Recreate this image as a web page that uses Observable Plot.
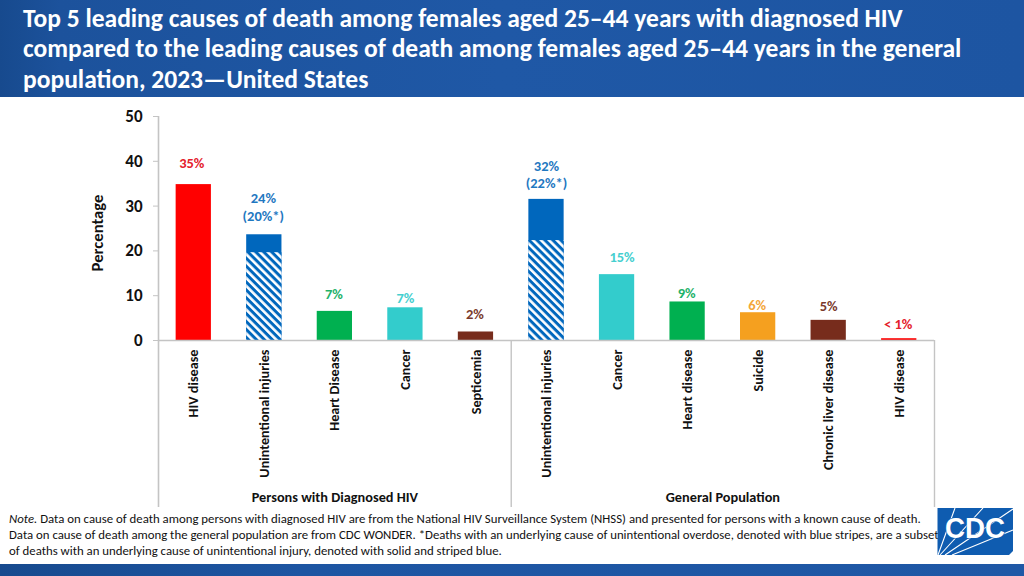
<!DOCTYPE html>
<html>
<head>
<meta charset="utf-8">
<script src="https://cdn.jsdelivr.net/npm/d3@7"></script>
<script src="https://cdn.jsdelivr.net/npm/@observablehq/plot@0.6"></script>
<style>
  html,body{margin:0;padding:0;background:#fff;width:1024px;height:576px;overflow:hidden;font-family:Carlito,Lato,sans-serif;}
  #page{position:relative;width:1024px;height:576px;overflow:hidden;}
  #head{height:97px;box-sizing:border-box;background:linear-gradient(90deg,#174a8e 0,#1c529c 60px,#1f58a6 500px,#1d55a2 1024px);color:#fff;font-weight:700;font-size:25.55px;line-height:30.6px;padding:3.5px 0 0 23px;white-space:pre;}
  #chart{height:410px;}
  #chart svg{display:block;}
  #note{position:absolute;left:9px;top:511px;font-size:12.8px;line-height:16px;color:#111;white-space:pre;}
  #foot{position:absolute;left:0;top:564px;width:1024px;height:12px;background:linear-gradient(90deg,#174a8e 0,#1d55a2 300px,#1f58a6 1024px);}
  #logo{position:absolute;left:937px;top:508px;}
</style>
</head>
<body>
<div id="page">
  <div id="head"></div>
  <div id="chart"></div>
  <div id="note"></div>
  <svg id="logo" width="77" height="48" viewBox="0 0 77 48">
    <path d="M0.5 0H76V43L72 47H0.5Z" fill="#0f5cb0"/>
    <g stroke="#fff" stroke-width="1.1" fill="none">
      <path d="M1 47L18 0M3 47L46 0M8 47L76 1M15 47L76 22"/>
    </g>
    <text x="38" y="30" text-anchor="middle" font-family="Liberation Sans,Arimo,sans-serif" font-weight="700" font-size="29" fill="#fff" stroke="#0f5cb0" stroke-width="1.2" paint-order="stroke" textLength="60" lengthAdjust="spacingAndGlyphs">CDC</text>
  </svg>
  <div id="foot"></div>
</div>
<script>
const titleLines = [
  "Top 5 leading causes of death among females aged 25–44 years with diagnosed HIV",
  "compared to the leading causes of death among females aged 25–44 years in the general",
  "population, 2023—United States"
];
const noteLines = [
  "Data on cause of death among persons with diagnosed HIV are from the National HIV Surveillance System (NHSS) and presented for persons with a known cause of death.",
  "Data on cause of death among the general population are from CDC WONDER. *Deaths with an underlying cause of unintentional overdose, denoted with blue stripes, are a subset",
  "of deaths with an underlying cause of unintentional injury, denoted with solid and striped blue."
];
const causes = ["HIV disease","Unintentional injuries","Heart Disease","Cancer","Septicemia",
                "Unintentional injuries","Cancer","Heart disease","Suicide","Chronic liver disease","HIV disease"];
const percents = [34.8,23.6,6.5,7.3,1.9,31.5,14.7,8.6,6.2,4.5,0.4];
const overdose = [null,19.6,null,null,null,22.3,null,null,null,null,null];
const valueLabels = ["35%","24%\n(20%*)","7%","7%","2%","32%\n(22%*)","15%","9%","6%","5%","< 1%"];
const groups = ["Persons with Diagnosed HIV","General Population"];
const yTicks = [0,10,20,30,40,50];

// Styling and layout
const barHue = {"hiv disease":"#ff0000","unintentional injuries":"#0067bd","heart disease":"#00b050","cancer":"#33cccc",
  "septicemia":"#772c1c","suicide":"#f5a01f","chronic liver disease":"#772c1c"};
const labelHue = {"hiv disease":"#e4202c","unintentional injuries":"#1f78c1","heart disease":"#1fb26a","cancer":"#45cfcf",
  "septicemia":"#7a3a2c","suicide":"#f3a63a","chronic liver disease":"#7a3a2c"};
const labelLift = [17,14,12,5,13,11,13,4,3,9,10];
const labelShift = [-2,-1,-1,0,-1,0,5,-1,-1,0,-1];
const halfStep = 35.27, gridColor = "#c4c4c4", bottomValue = -37.3;

document.getElementById("head").textContent = titleLines.join("\n");
const noteEl = document.getElementById("note");
noteLines.forEach((line,k)=>{
  const row = document.createElement("div");
  if (k===0) {
    const em = document.createElement("i");
    em.textContent = "Note.";
    row.appendChild(em);
    row.appendChild(document.createTextNode(" " + line));
  } else row.textContent = line;
  noteEl.appendChild(row);
});

const rows = causes.map((cause,i)=>({i,cause,value:percents[i],overdose:overdose[i],label:valueLabels[i]}));
const striped = rows.filter(d=>d.overdose!=null);

const stripes = () => {
  const svg = d3.create("svg:defs");
  const p = svg.append("pattern").attr("id","stripes").attr("patternUnits","userSpaceOnUse")
    .attr("width",5.6).attr("height",5.6).attr("patternTransform","rotate(-45)");
  p.append("rect").attr("width",5.6).attr("height",5.6).attr("fill","#0067bd");
  p.append("rect").attr("width",2.6).attr("height",5.6).attr("fill","#fff");
  return svg.node();
};

const chart = Plot.plot({
  width:1024, height:410,
  marginLeft:158, marginRight:90, marginTop:19, marginBottom:167,
  style:{fontFamily:"Carlito,Lato,sans-serif",background:"transparent",color:"#111"},
  x:{domain:d3.range(causes.length), paddingInner:0.5, paddingOuter:0.25, align:0.5, round:false, axis:null},
  y:{domain:[0,50], axis:null},
  marks:[
    stripes,
    Plot.barY(rows,{x:"i",y:"value",fill:d=>barHue[d.cause.toLowerCase()]}),
    Plot.barY(striped,{x:"i",y:"overdose",fill:"url(#stripes)"}),
    Plot.ruleX([0],{x:d=>d,dx:-halfStep,y1:bottomValue,y2:50,stroke:gridColor,strokeWidth:1.6}),
    Plot.ruleX([4,10],{x:d=>d,dx:halfStep,y1:bottomValue,y2:0,stroke:gridColor,strokeWidth:1.4}),
    Plot.ruleY([0],{stroke:gridColor,strokeWidth:1.6}),
    Plot.axisY({ticks:yTicks,tickSize:5,tickPadding:11,stroke:gridColor,fill:"#111",label:null,fontSize:17,fontWeight:700,tickFormat:d=>d}),
    Plot.axisX({tickRotate:-90,tickSize:0,tickPadding:9,tickFormat:i=>causes[i],label:null,fontSize:14.2,fontWeight:700,fill:"#111"}),
    ...rows.map((d,k)=>Plot.text([d],{x:"i",y:"value",text:"label",dy:-labelLift[k],dx:labelShift[k],
      lineAnchor:"bottom",lineHeight:1.2,fontSize:14.5,fontWeight:700,fill:labelHue[d.cause.toLowerCase()]})),
    Plot.text([groups[0]],{x:()=>2,y:()=>-35,text:d=>d,fontSize:14.3,fontWeight:700,fill:"#111"}),
    Plot.text([groups[1]],{x:()=>7,y:()=>-35,dx:halfStep,text:d=>d,fontSize:14.3,fontWeight:700,fill:"#111"}),
    Plot.text(["Percentage"],{y:()=>24,frameAnchor:"left",textAnchor:"middle",dx:-61,rotate:-90,text:d=>d,fontSize:16.7,fontWeight:700,fill:"#111"})
  ]
});
document.getElementById("chart").appendChild(chart);
</script>
</body>
</html>
